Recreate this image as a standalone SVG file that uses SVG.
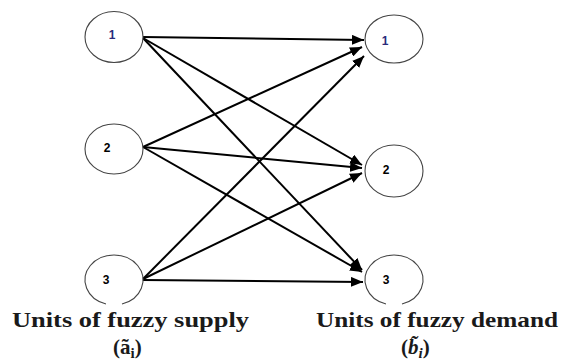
<svg xmlns="http://www.w3.org/2000/svg" width="567" height="360" viewBox="0 0 567 360">
<style>
.node{fill:#fff;stroke:#444;stroke-width:1.1}
.num{font-family:"Liberation Sans",Arial,sans-serif;font-weight:bold;font-size:12px;text-anchor:middle}
.edge{stroke:#000;stroke-width:2;fill:none;marker-end:url(#arr)}
.lab{font-family:"Liberation Serif","Times New Roman",serif;font-weight:bold;font-size:21px;fill:#1a1a1a}
</style>
<defs>
<marker id="arr" markerUnits="userSpaceOnUse" markerWidth="13" markerHeight="10" refX="12" refY="5" orient="auto">
<path d="M0,0 L12,5 L0,10 z" fill="#000"/>
</marker>
</defs>
<rect width="567" height="360" fill="#fff"/>
<g id="edges">
<line class="edge" x1="143" y1="37" x2="364" y2="40"/>
<line class="edge" x1="143" y1="38" x2="362" y2="165"/>
<line class="edge" x1="143" y1="38" x2="362" y2="270"/>
<line class="edge" x1="143" y1="147" x2="362" y2="47"/>
<line class="edge" x1="143" y1="147" x2="362" y2="168"/>
<line class="edge" x1="143" y1="147" x2="362" y2="272"/>
<line class="edge" x1="143" y1="279" x2="364" y2="56"/>
<line class="edge" x1="143" y1="279" x2="362" y2="173"/>
<line class="edge" x1="143" y1="280" x2="363" y2="282"/>
</g>
<g id="s1"><ellipse class="node" cx="114" cy="37" rx="29" ry="25.5"/><text class="num" x="112" y="39" fill="#2a2a7a">1</text></g>
<g id="s2"><ellipse class="node" cx="114" cy="149" rx="29" ry="25"/><text class="num" x="107" y="152">2</text></g>
<g id="s3"><path class="node" d="M106 304 A29 25 0 1 1 122 304"/><text class="num" x="106" y="284">3</text></g>
<g id="d1"><ellipse class="node" cx="394" cy="39" rx="29" ry="24"/><text class="num" x="385" y="45" fill="#2a2a7a">1</text></g>
<g id="d2"><ellipse class="node" cx="394" cy="171" rx="29" ry="26"/><text class="num" x="386" y="174">2</text></g>
<g id="d3"><path class="node" d="M386 304 A29 25 0 1 1 402 304"/><text class="num" x="386" y="284">3</text></g>
<g id="labels">
<text class="lab" x="12" y="327" textLength="237" lengthAdjust="spacingAndGlyphs">Units of fuzzy supply</text>
<text class="lab" x="113" y="354" font-size="22">(ã<tspan font-size="15" dy="4">i</tspan><tspan dy="-4">)</tspan></text>
<text class="lab" x="316" y="327" textLength="242" lengthAdjust="spacingAndGlyphs">Units of fuzzy demand</text>
<text class="lab" x="401" y="354" font-size="22">(<tspan font-style="italic">b̃</tspan><tspan font-style="italic" font-size="15" dy="4">i</tspan><tspan dy="-4">)</tspan></text>
</g>
</svg>
